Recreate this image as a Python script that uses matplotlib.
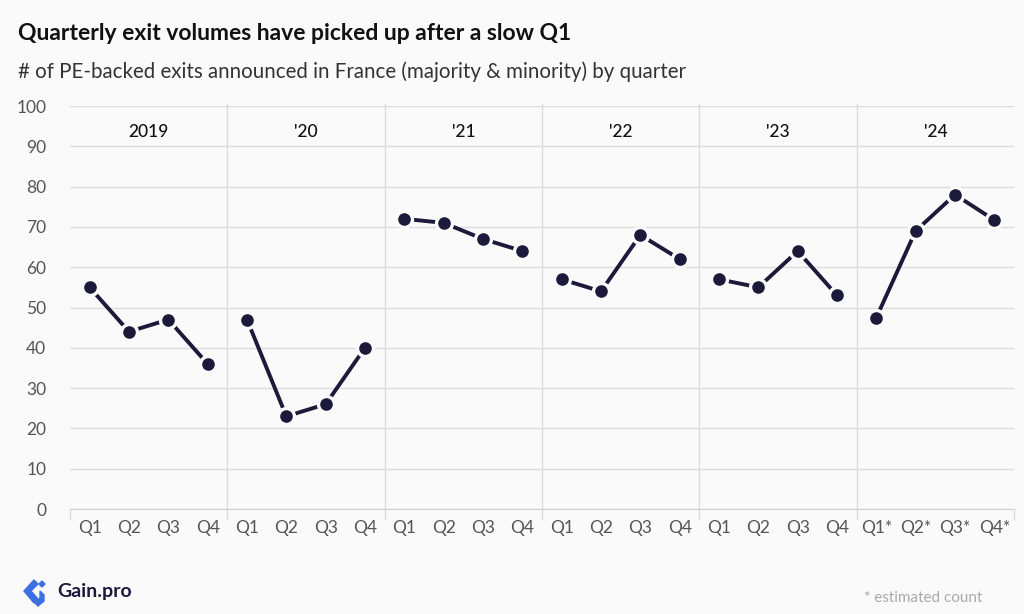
import numpy as np
import matplotlib.pyplot as plt
from matplotlib.patches import Polygon

# data
years = ["2019", "'20", "'21", "'22", "'23", "'24"]
quarters = ["Q1", "Q2", "Q3", "Q4"]
exits_2019 = [55, 44, 47, 36]
exits_2020 = [47, 23, 26, 40]
exits_2021 = [72, 71, 67, 64]
exits_2022 = [57, 54, 68, 62]
exits_2023 = [57, 55, 64, 53]
exits_2024 = [47.5, 69, 78, 71.7]   # estimated
all_years = [exits_2019, exits_2020, exits_2021, exits_2022, exits_2023, exits_2024]

navy = "#1c1a3b"
bg = "#fafafa"
grid_col = "#dcdcdc"

plt.rcParams['font.family'] = ['Lato', 'DejaVu Sans']

fig = plt.figure(figsize=(10.24, 6.14), dpi=100, facecolor=bg)
ax = fig.add_axes([70/1024, 105/614, 944/1024, 403/614])
ax.set_facecolor(bg)

# one line per year, gaps between years
for i, vals in enumerate(all_years):
    x = np.arange(4) + 4*i
    ax.plot(x, vals, color=navy, linewidth=2.8, zorder=3)
    ax.plot(x, vals, linestyle="none", marker="o", markersize=11.5,
            markerfacecolor=navy, markeredgecolor=bg, markeredgewidth=2.4, zorder=4)

ax.set_xlim(-0.5, 23.5)
ax.set_ylim(0, 100)
ax.set_yticks(np.arange(0, 101, 10))
ax.grid(axis="y", color=grid_col, linewidth=1)
ax.set_axisbelow(True)

# x tick labels
xlabels = []
for i in range(6):
    for q in quarters:
        xlabels.append(q + ("*" if i == 5 else ""))
ax.set_xticks(np.arange(24))
ax.set_xticklabels(xlabels)
ax.tick_params(axis="x", length=0, pad=8, labelsize=12.5, labelcolor="#555555")
ax.tick_params(axis="y", length=0, pad=17, labelsize=12.5, labelcolor="#555555")

for s in ["top", "right", "left"]:
    ax.spines[s].set_visible(False)
ax.spines["bottom"].set_color("#cfcfcf")

# year dividers (full inside, only ticks at outer edges) and labels
for i in range(7):
    xd = 4*i - 0.5
    top = 100.5 if 0 < i < 6 else 0
    ax.plot([xd, xd], [top, -2.5], color=grid_col, linewidth=1, clip_on=False, zorder=1)
for i, yr in enumerate(years):
    ax.text(4*i + 1.5, 93.5, yr, ha="center", va="center", fontsize=12.5,
            color="#111111", fontweight="medium")

# titles
fig.text(18/1024, 1 - 33/614, "Quarterly exit volumes have picked up after a slow Q1",
         fontsize=16.5, fontweight="bold", color="#111111", va="center")
fig.text(18/1024, 1 - 72/614, "# of PE-backed exits announced in France (majority & minority) by quarter",
         fontsize=14.8, color="#333333", va="center")

# footer
fig.text(982/1024, 1 - 598/614, "* estimated count", fontsize=11, color="#aaaaaa",
         ha="right", va="center")
fig.text(57/1024, 1 - 592/614, "Gain.pro", fontsize=14, color=navy, va="center", fontweight="bold")
# simple logo mark
logo_ax = fig.add_axes([22/1024, 1 - 607/614, 26/1024, 30/614])
logo_ax.set_xlim(0, 26)
logo_ax.set_ylim(0, 30)
logo_ax.axis("off")
logo_ax.add_patch(Polygon([[12, 27], [2, 16], [12, 4], [16, 8], [9, 16], [16, 23]],
                          closed=True, color="#3d6fe0"))
logo_ax.add_patch(Polygon([[18, 16], [22, 12], [22, 6], [16, 1], [13, 4], [18, 9]],
                          closed=True, color="#3d6fe0"))
logo_ax.add_patch(Polygon([[20, 26], [23, 23], [20, 20], [17, 23]], closed=True, color="#3d6fe0"))

fig.savefig("out.png", dpi=100, facecolor=bg)
